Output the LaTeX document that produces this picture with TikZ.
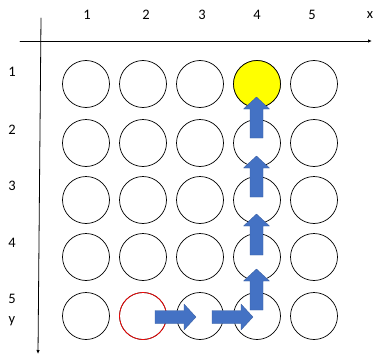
\documentclass[tikz,border=0pt]{standalone}
\usepackage{fontspec}
\setmainfont{Carlito}
\usetikzlibrary{arrows.meta}
\begin{document}
\begin{tikzpicture}[x=1pt, y=-1pt, line cap=round, line join=round]
  \definecolor{Ink}{HTML}{000000}
  \definecolor{StepBlue}{HTML}{4472C4}
  \definecolor{GoalYellow}{HTML}{FFFF00}
  \definecolor{StartRed}{HTML}{FF0000}

  \tikzset{
    cell/.style={circle, draw=Ink, line width=0.7pt, minimum size=47pt, inner sep=0pt},
    axislabel/.style={font=\fontsize{14.5}{16}\selectfont, text=Ink, inner sep=0pt},
    axisline/.style={draw=Ink, line width=0.8pt, -{Latex[length=4pt,width=3.5pt]}},
    pics/uparrow/.style={code={
      \fill[StepBlue, draw=StepBlue!80!black, line width=0.3pt]
        (-6.5,0) -- (-6.5,-29) -- (-13,-29) -- (0,-41) -- (13,-29) -- (6.5,-29) -- (6.5,0) -- cycle;
    }}
  }

  \useasboundingbox (0,0) rectangle (375,356);

  % Axes
  \coordinate (xa) at (20,41);
  \coordinate (xb) at (372,41);
  \coordinate (ya) at (41,18);
  \coordinate (yb) at (38,354);
  \draw[axisline] (xa) -- (xb);
  \draw[axisline] (ya) -- (yb);

  % Labels
  \foreach \i/\lx in {1/87, 2/146, 3/202, 4/257, 5/312}
    \node[axislabel] (colnum-\i) at (\lx,15) {\i};
  \node[axislabel] (xname) at (370,15) {x};
  \foreach \j/\ly in {1/72, 2/130, 3/186, 4/243, 5/299}
    \node[axislabel] (rownum-\j) at (12,\ly) {\j};
  \node[axislabel] (yname) at (12,321) {y};

  % Grid of cells
  \foreach \j/\cy in {1/84, 2/143, 3/200, 4/257, 5/316}
    \foreach \i/\cx in {1/86, 2/143, 3/200, 4/257, 5/314}
      \node[cell] (c-\i-\j) at (\cx,\cy) {};
  \node[cell, fill=GoalYellow] at (c-4-1) {};
  \node[cell, draw=StartRed] at (c-2-5) {};

  % Path of steps
  \foreach \x/\y in {155/317, 212/317}
    \pic[rotate=-90] at (\x,\y) {uparrow};
  \foreach \y in {138, 197, 255, 310}
    \pic at (256.5,\y) {uparrow};
\end{tikzpicture}
\end{document}
